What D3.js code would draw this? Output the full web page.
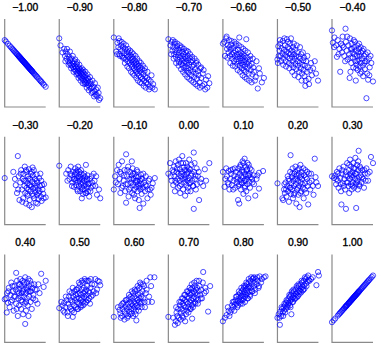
<!DOCTYPE html>
<html><head><meta charset="utf-8">
<script src="https://cdn.jsdelivr.net/npm/d3@7"></script>
<style>html,body{margin:0;padding:0;background:#fff;}svg{display:block;}</style>
</head><body>
<svg id="chart" width="381" height="349"></svg>
<script>
const titles = ["\u22121.00","\u22120.90","\u22120.80","\u22120.70","\u22120.60","\u22120.50","\u22120.40",
  "\u22120.30","\u22120.20","\u22120.10","0.00","0.10","0.20","0.30",
  "0.40","0.50","0.60","0.70","0.80","0.90","1.00"];

const r_m100 = [[0,76],[3,74.4],[8,71.8],[12,69.6],[15,68],[18,66.5],[20,65.4],[22,64.3],[24,63.3],[26,62.2],[28,61.2],[30,60.1],[31,59.6],[33,58.5],[34,58],[35,57.5],[36,56.9],[37,56.4],[38,55.9],[39,55.3],[40,54.8],[41,54.3],[42,53.7],[43,53.2],[44,52.7],[45,52.2],[46,51.6],[47,51.1],[48,50.6],[49,50],[50,49.5],[51,49],[52,48.4],[53,47.9],[54,47.4],[55,46.9],[56,46.3],[57,45.8],[58,45.3],[59,44.7],[60,44.2],[61,43.7],[62,43.1],[63,42.6],[64,42.1],[65,41.6],[66,41],[67,40.5],[68,40],[70,38.9],[72,37.8],[74,36.8],[76,35.7],[78,34.7],[80,33.6],[83,32],[86,30.4],[88,29.4],[90,28.3],[93,26.7],[96,25.1],[100,23]];
const r_m090 = [[0,78],[3,70],[8,62],[12,66],[14,58],[16,63],[18,55],[20,60],[22,52],[24,57],[25,50],[27,54],[28,48],[30,55],[31,47],[32,51],[34,45],[35,49],[36,43],[37,52],[38,46],[40,41],[41,45],[42,49],[43,39],[44,43],[45,46],[46,38],[47,41],[48,44],[49,36],[50,40],[51,43],[52,34],[53,38],[54,41],[55,33],[56,37],[57,40],[58,31],[59,35],[60,38],[61,30],[62,34],[63,28],[64,36],[65,31],[66,27],[67,33],[68,29],[70,25],[71,32],[72,27],[74,23],[75,29],[77,21],[78,26],[80,22],[82,17],[84,23],[86,18],[88,14],[90,20],[93,12],[96,16],[100,10],
  [15,52],[19,66],[23,48],[26,63],[29,44],[33,58],[35,40],[39,54],[42,37],[44,51],[47,33],[49,48],[52,30],[55,44],[57,27],[59,42],[62,26],[64,40],[67,22],[69,37],[72,19],[75,34],[79,16],[81,30],[85,12],[87,27],[91,14],[94,22],[97,8]];
const r_m080 = [[0,79],[6,63],[9,73],[11,68],[13,60],[14,75],[16,66],[18,70],[20,58],[21,64],[23,68],[25,56],[26,61],[28,66],[29,54],[31,59],[32,63],[34,52],[35,57],[36,62],[38,50],[39,55],[40,59],[42,48],[43,53],[44,57],[45,46],[46,51],[47,55],[49,44],[50,49],[51,53],[52,42],[53,47],[54,51],[55,40],[56,45],[57,49],[58,38],[60,43],[61,47],[62,36],[63,41],[65,45],[66,34],[67,39],[69,43],[70,32],[72,37],[74,30],[75,41],[77,34],[79,28],[81,33],[83,26],[85,31],[88,23],[90,29],[94,22],[100,20],
  [8,60],[12,78],[15,58],[19,74],[22,56],[24,72],[27,50],[30,70],[33,46],[35,66],[37,44],[40,64],[42,40],[44,62],[46,38],[48,60],[50,36],[53,58],[55,33],[57,55],[59,30],[62,52],[64,28],[66,50],[68,27],[71,47],[73,24],[76,44],[78,22],[82,40],[86,20],[92,36],[96,26]];
const r_m070 = [[0,77],[5,70],[8,74],[10,64],[12,68],[14,60],[15,72],[17,65],[18,57],[20,62],[21,69],[22,54],[24,59],[25,65],[26,51],[27,62],[28,56],[30,67],[31,49],[32,58],[33,53],[34,63],[35,47],[36,55],[37,60],[38,50],[39,44],[40,57],[41,52],[42,62],[43,46],[44,55],[45,41],[46,50],[47,58],[48,44],[49,53],[50,39],[51,48],[52,56],[54,42],[55,51],[56,36],[58,46],[59,53],[60,40],[62,48],[63,34],[65,43],[67,38],[68,50],[70,32],[72,41],[74,36],[76,28],[78,44],[80,33],[84,38],[88,26],[92,31],[95,22],[100,27],
  [7,60],[11,76],[13,55],[16,74],[19,50],[22,72],[25,47],[28,70],[31,43],[33,68],[36,40],[38,66],[41,37],[44,64],[46,34],[48,63],[51,32],[53,60],[56,30],[58,57],[61,28],[64,55],[66,26],[69,52],[71,24],[73,48],[77,22],[80,45],[83,24],[86,42],[90,20],[97,35]];
const r_m060 = [[0,72],[3,74],[8,78],[10,66],[12,70],[14,62],[16,68],[17,58],[19,65],[20,71],[22,60],[23,55],[25,67],[26,62],[27,52],[29,58],[30,64],[31,70],[32,54],[34,60],[35,49],[36,57],[37,65],[38,52],[40,79],[40,60],[41,47],[42,55],[43,62],[44,50],[45,58],[46,44],[47,53],[48,60],[49,48],[50,56],[51,42],[52,51],[53,58],[54,46],[55,53],[56,40],[57,77],[58,49],[59,56],[60,44],[62,51],[63,38],[65,47],[66,54],[68,42],[70,49],[72,37],[74,45],[76,40],[80,34],[85,21],[88,44],[100,33],
  [5,58],[9,80],[11,56],[15,76],[18,50],[21,75],[24,47],[28,74],[30,46],[33,72],[36,42],[39,70],[42,40],[45,68],[48,36],[50,66],[53,34],[55,64],[58,32],[61,62],[64,30],[67,58],[70,28],[73,55],[78,30],[82,52],[90,38],[95,28]];
const r_m050 = [[0,54],[1,50],[2,69],[5,64],[7,72],[8,58],[10,67],[12,61],[13,75],[15,55],[16,65],[18,70],[19,59],[20,52],[22,63],[23,77],[24,57],[25,68],[27,61],[28,50],[29,66],[30,55],[31,72],[32,60],[34,48],[35,64],[36,57],[37,52],[38,68],[39,45],[40,60],[42,55],[43,65],[44,49],[45,58],[46,43],[48,62],[49,52],[50,47],[52,57],[53,40],[54,50],[56,55],[57,44],[58,60],[60,38],[61,48],[63,53],[64,42],[66,35],[67,47],[68,24],[70,52],[72,40],[74,45],[76,32],[80,42],[84,36],[91,52],[99,30],
  [3,58],[6,76],[9,52],[14,48],[17,78],[21,46],[26,74],[29,44],[33,78],[36,40],[40,72],[42,36],[47,70],[51,34],[55,68],[59,30],[62,62],[65,56],[69,30],[73,58],[77,26],[82,50],[87,44],[94,38]];
const r_m040 = [[0,87],[2,73],[6,79],[10,70],[12,57],[14,76],[18,66],[20,40],[22,72],[24,62],[26,80],[28,68],[30,58],[33,89],[34,74],[36,64],[38,54],[40,70],[42,60],[43,33],[44,78],[46,66],[47,50],[48,72],[50,62],[51,56],[52,45],[54,68],[55,60],[56,74],[57,52],[58,64],[60,48],[61,58],[62,70],[63,42],[64,62],[65,54],[66,66],[67,46],[68,58],[70,50],[71,62],[72,40],[73,55],[74,64],[75,47],[76,35],[78,58],[79,50],[80,43],[82,60],[84,10],[85,52],[86,38],[88,31],[90,55],[92,45],[96,50],[100,29],
  [5,68],[16,60],[25,70],[32,52],[37,80],[45,56],[49,66],[53,76],[59,44],[62,52],[66,72],[69,38],[77,66],[81,52],[87,62],[91,36],[94,58],[45,40],[58,30],[70,68]];
const r_m030 = [[0,53],[21,60],[27,45],[30,36],[32,78],[34,55],[36,28],[38,48],[40,62],[42,40],[44,52],[45,30],[46,58],[48,44],[49,66],[50,36],[51,50],[52,24],[53,60],[54,42],[55,47],[56,33],[57,55],[58,40],[59,63],[60,45],[61,28],[62,52],[63,38],[64,58],[65,43],[66,20],[67,49],[68,35],[69,56],[70,41],[71,62],[72,30],[73,47],[74,52],[75,37],[76,25],[77,44],[78,57],[79,34],[80,48],[81,40],[82,29],[84,53],[85,38],[86,44],[88,32],[89,50],[90,27],[92,40],[94,35],[96,46],[100,31],
  [25,52],[33,40],[39,58],[43,26],[47,50],[52,62],[55,35],[58,52],[62,45],[66,60],[70,33],[74,42],[78,50],[83,36],[87,58],[91,45],[95,30],[60,22],[68,65],[80,24]];
const r_m020 = [[0,67],[17,58],[22,62],[25,52],[28,66],[30,56],[32,48],[34,60],[35,52],[36,43],[38,57],[39,64],[40,50],[41,45],[42,58],[43,53],[44,40],[45,62],[46,48],[47,55],[48,44],[49,60],[50,50],[51,38],[52,54],[53,46],[54,58],[55,42],[56,52],[57,48],[58,35],[59,56],[60,44],[61,50],[62,40],[63,54],[64,46],[65,68],[66,36],[67,50],[68,43],[69,56],[70,38],[72,47],[73,32],[75,52],[77,42],[80,48],[84,58],[88,44],[90,55],[92,34],[97,40],[100,30],
  [20,50],[27,58],[31,44],[37,52],[41,60],[45,38],[49,52],[53,62],[57,40],[61,58],[64,36],[68,52],[71,46],[76,38],[79,55],[82,44],[86,50],[55,30],[46,66]];
const r_m010 = [[0,40],[3,55],[8,62],[10,46],[12,68],[14,52],[16,36],[18,58],[20,72],[22,44],[24,50],[26,62],[28,38],[30,80],[30,25],[32,55],[34,46],[35,66],[36,32],[38,52],[40,60],[41,42],[42,48],[44,56],[45,36],[46,64],[47,45],[48,52],[50,40],[51,58],[52,30],[53,48],[54,55],[55,43],[56,62],[57,50],[58,38],[59,46],[60,54],[61,28],[62,44],[63,19],[64,50],[65,40],[66,57],[67,46],[68,35],[70,52],[71,42],[72,24],[74,48],[76,38],[78,55],[80,44],[82,30],[85,50],[88,40],[90,34],[95,47],[100,53],
  [5,48],[15,60],[19,42],[25,56],[29,46],[33,62],[37,40],[43,52],[47,58],[49,34],[55,50],[58,60],[63,42],[67,52],[72,58],[77,45],[83,40],[87,52],[92,42],[44,72]];
const r_000 = [[0,58],[4,70],[8,50],[10,62],[12,45],[14,66],[15,55],[16,38],[18,72],[19,48],[20,60],[22,52],[23,68],[24,42],[25,58],[26,74],[27,50],[28,63],[29,36],[30,55],[31,70],[32,46],[33,60],[34,78],[35,52],[36,40],[37,65],[38,56],[39,48],[40,62],[41,33],[42,54],[43,70],[44,45],[45,58],[46,66],[47,50],[48,42],[49,60],[50,53],[51,74],[52,47],[53,63],[54,38],[55,56],[56,68],[58,50],[60,44],[62,82],[62,18],[63,60],[65,52],[67,40],[69,64],[72,55],[75,28],[78,48],[89,63],[92,50],[100,70],
  [6,55],[13,60],[17,50],[21,64],[28,44],[32,58],[36,70],[41,52],[44,62],[47,38],[50,64],[54,48],[57,58],[61,44],[64,70],[66,56],[70,46],[74,60],[80,52],[85,44]];
const r_p010 = [[0,60],[4,43],[8,64],[10,55],[12,48],[14,61],[16,40],[18,52],[20,58],[22,45],[24,63],[26,50],[28,56],[30,42],[32,60],[34,48],[36,54],[37,28],[38,64],[40,24],[40,46],[41,58],[42,51],[43,68],[44,40],[45,55],[46,62],[47,47],[48,72],[49,53],[50,35],[51,60],[52,50],[53,75],[54,44],[55,57],[56,66],[57,38],[58,52],[59,63],[60,46],[61,56],[62,30],[63,68],[64,49],[65,58],[66,42],[68,54],[70,62],[72,48],[75,56],[79,33],[82,52],[88,41],[88,59],[98,61],
  [6,52],[14,46],[19,62],[25,40],[29,64],[33,52],[38,44],[42,66],[45,48],[47,60],[50,70],[53,42],[55,50],[58,62],[60,70],[63,56],[66,64],[71,52],[76,46],[84,56]];
const r_p020 = [[0,47],[12,30],[14,28],[16,40],[18,36],[20,48],[22,32],[24,44],[25,55],[26,38],[28,26],[29,50],[30,42],[31,60],[32,79],[33,35],[34,47],[35,54],[36,40],[37,64],[38,30],[39,50],[40,44],[41,58],[42,36],[43,52],[44,66],[45,46],[46,24],[47,56],[48,40],[49,62],[50,50],[51,34],[52,58],[53,44],[54,20],[55,54],[56,68],[57,48],[58,38],[59,60],[60,52],[62,42],[63,64],[64,30],[65,56],[67,47],[68,62],[70,36],[72,52],[74,44],[75,23],[77,58],[80,40],[83,50],[88,34],[91,75],[95,48],[99,44],
  [17,46],[21,40],[27,52],[32,42],[36,58],[40,34],[43,60],[46,52],[50,42],[53,64],[56,36],[58,56],[61,46],[66,40],[69,54],[73,60],[78,48],[82,58],[86,44],[93,54]];
const r_p030 = [[0,55],[5,53],[8,56],[10,46],[12,60],[14,50],[16,42],[18,64],[20,53],[22,38],[23,23],[24,58],[26,47],[28,66],[30,52],[32,40],[34,18],[34,60],[36,48],[37,70],[38,55],[40,44],[41,62],[42,36],[43,52],[44,74],[45,58],[46,46],[47,66],[48,40],[49,54],[50,60],[51,48],[52,70],[53,56],[54,42],[55,64],[56,52],[57,76],[58,46],[59,19],[60,58],[61,68],[62,50],[63,40],[64,62],[65,84],[66,54],[67,44],[68,66],[70,56],[72,48],[74,62],[76,52],[78,42],[80,58],[84,64],[88,50],[92,60],[95,77],[100,70],
  [11,52],[15,58],[21,46],[25,62],[29,44],[33,56],[39,48],[42,68],[46,56],[50,44],[53,64],[57,58],[60,48],[64,72],[66,46],[70,64],[73,54],[79,62],[82,50],[87,58]];
const r_p040 = [[0,49],[5,34],[6,56],[8,45],[10,62],[12,40],[14,54],[16,68],[18,48],[20,58],[22,36],[24,64],[26,52],[28,79],[28,44],[30,70],[31,58],[32,30],[33,50],[34,66],[35,42],[36,60],[38,72],[39,52],[40,38],[41,64],[42,56],[43,46],[44,70],[45,32],[46,60],[47,52],[48,66],[49,44],[50,21],[50,74],[51,56],[52,36],[53,62],[54,50],[55,68],[56,42],[57,58],[58,30],[59,64],[60,52],[62,70],[63,46],[64,58],[66,38],[68,62],[70,54],[72,66],[75,48],[78,60],[80,44],[85,56],[89,78],[95,63],[100,70],
  [3,50],[9,58],[15,46],[19,64],[23,52],[27,60],[29,38],[35,56],[37,66],[40,48],[44,58],[47,68],[52,46],[55,60],[58,72],[61,58],[65,66],[69,50],[74,60],[82,66]];
const r_p050 = [[0,39],[8,42],[10,36],[12,45],[15,40],[18,48],[20,34],[22,44],[24,52],[26,40],[28,48],[30,56],[31,36],[32,46],[33,29],[34,52],[36,42],[37,58],[38,48],[40,54],[41,40],[42,50],[43,60],[44,46],[45,55],[46,38],[47,62],[48,50],[49,44],[50,56],[51,66],[52,48],[53,54],[54,42],[55,60],[56,50],[57,68],[58,46],[59,56],[60,62],[61,52],[62,44],[63,58],[64,70],[65,50],[66,60],[67,54],[68,64],[70,48],[71,58],[72,70],[74,56],[75,44],[76,62],[78,52],[80,66],[84,58],[88,72],[92,60],[98,69],[100,65],
  [5,46],[13,34],[16,52],[21,30],[25,58],[29,38],[33,62],[36,34],[41,60],[44,38],[48,68],[52,40],[55,70],[58,42],[62,72],[66,46],[69,70],[73,50],[77,72],[82,54],[86,66],[90,56],[94,70]];
const r_p060 = [[0,29],[14,37],[16,33],[18,42],[20,30],[22,38],[24,45],[26,35],[28,41],[30,32],[31,48],[32,38],[34,44],[35,30],[36,50],[37,40],[38,35],[40,46],[41,52],[42,38],[43,44],[44,33],[45,50],[46,42],[47,56],[48,38],[49,46],[50,52],[51,40],[52,58],[53,44],[54,36],[55,25],[55,50],[56,42],[57,60],[58,48],[59,54],[60,40],[61,46],[62,62],[63,50],[64,56],[65,44],[66,66],[67,52],[68,46],[70,58],[72,50],[74,64],[76,40],[78,56],[80,60],[84,46],[89,74],[93,46],[99,74],
  [10,40],[17,28],[21,44],[26,26],[29,48],[33,28],[37,54],[40,32],[44,58],[47,30],[51,60],[53,32],[58,64],[61,36],[64,68],[68,40],[71,66],[75,46],[80,70],[86,52],[91,64]];
const r_p070 = [[0,29],[16,20],[18,24],[20,34],[22,30],[24,38],[26,28],[28,42],[30,34],[31,46],[32,38],[34,30],[35,44],[36,50],[37,36],[38,42],[40,48],[41,24],[41,54],[42,40],[44,46],[45,36],[46,52],[47,44],[48,58],[49,40],[50,50],[51,56],[52,46],[53,38],[54,54],[55,60],[56,48],[57,42],[58,27],[58,56],[59,62],[60,50],[61,44],[62,58],[63,52],[64,64],[65,46],[66,56],[67,60],[68,50],[70,62],[71,54],[72,44],[74,58],[76,64],[78,54],[80,60],[82,50],[85,80],[88,56],[90,62],[97,35],[102,64],
  [12,28],[19,40],[23,22],[27,46],[30,26],[33,50],[36,28],[39,54],[43,32],[45,58],[49,34],[52,62],[55,38],[57,66],[60,40],[63,68],[66,44],[69,70],[73,48],[75,70],[79,50],[84,68],[92,58]];
const r_p080 = [[0,24],[5,28],[9,31],[14,36],[18,34],[21,37],[22,42],[25,40],[27,46],[29,43],[31,48],[33,44],[34,52],[36,47],[37,42],[38,54],[40,50],[41,46],[42,56],[44,52],[45,48],[46,58],[47,53],[48,44],[49,60],[50,55],[51,50],[52,62],[53,57],[54,52],[55,64],[56,59],[57,54],[58,66],[59,61],[60,56],[61,50],[62,63],[63,68],[64,58],[65,64],[66,54],[67,70],[68,62],[70,66],[71,58],[72,72],[74,73],[75,64],[77,68],[79,60],[80,72],[82,66],[85,70],[88,64],[90,75],[95,72],[100,74],[104,75],
  [12,40],[16,30],[24,46],[28,36],[32,52],[35,40],[39,58],[43,44],[45,62],[48,48],[51,64],[54,46],[57,68],[60,50],[63,72],[66,52],[69,74],[72,58],[76,74],[78,56],[84,74],[87,62],[93,68]];
const r_p090 = [[0,28],[3,32],[6,20],[7,35],[9,30],[11,38],[13,34],[15,40],[16,36],[18,42],[20,38],[21,45],[23,41],[24,47],[26,43],[27,50],[28,45],[30,52],[31,47],[32,40],[33,54],[34,32],[34,49],[36,56],[37,51],[38,46],[40,58],[41,53],[42,49],[44,60],[45,55],[46,51],[48,62],[49,57],[50,53],[52,64],[53,59],[54,55],[56,66],[57,61],[58,57],[60,68],[61,63],[62,59],[64,70],[65,65],[66,61],[68,72],[70,67],[72,74],[74,69],[76,71],[95,65],[99,80],[101,76],
  [5,28],[10,40],[14,30],[17,44],[19,34],[22,48],[25,40],[29,54],[31,42],[35,58],[37,46],[39,60],[43,50],[47,64],[49,52],[51,66],[55,58],[59,70],[63,60],[67,74],[71,64],[75,76],[78,70],[82,72],[86,74]];
const r_p100 = [[0,23],[4,25.1],[8,27.2],[14,30.4],[17,32],[19,33.1],[21,34.1],[23,35.2],[25,36.3],[27,37.3],[29,38.4],[30,38.9],[32,40],[33,40.5],[34,41],[35,41.6],[36,42.1],[37,42.6],[39,43.7],[40,44.2],[41,44.7],[42,45.3],[43,45.8],[44,46.3],[45,46.9],[46,47.4],[47,47.9],[48,48.4],[49,49],[50,49.5],[51,50],[52,50.6],[53,51.1],[54,51.6],[55,52.2],[56,52.7],[57,53.2],[58,53.7],[59,54.3],[60,54.8],[61,55.3],[62,55.9],[63,56.4],[64,56.9],[65,57.5],[66,58],[67,58.5],[69,59.6],[71,60.6],[73,61.7],[75,62.8],[77,63.8],[79,64.9],[81,65.9],[83,67],[85,68],[87,69.1],[89,70.2],[91,71.2],[94,72.8],[97,74.4],[100,76]];

const panels = [r_m100,r_m090,r_m080,r_m070,r_m060,r_m050,r_m040,
  r_m030,r_m020,r_m010,r_000,r_p010,r_p020,r_p030,
  r_p040,r_p050,r_p060,r_p070,r_p080,r_p090,r_p100];

const svg = d3.select("#chart");
const cols = 7, x0 = 4.7, dx = 54.55, y0 = 19, dy = 117.7, pw = 41, ph = 88;

panels.forEach((pts, k) => {
  const c = k % cols, r = Math.floor(k / cols);
  const left = x0 + c * dx, top = y0 + r * dy;
  const x = d3.scaleLinear().domain([0, 100]).range([left, left + pw]);
  const y = d3.scaleLinear().domain([0, 100]).range([top + ph, top]);
  const g = svg.append("g");
  g.append("text").attr("x", left + pw / 2).attr("y", top - 8)
    .attr("text-anchor", "middle").attr("font-family", "Liberation Sans, Arial, sans-serif")
    .attr("font-size", 10.3).attr("fill", "#000")
    .attr("stroke", "#000").attr("stroke-width", 0.35).text(titles[k]);
  g.append("path")
    .attr("d", `M${x(0)},${y(100)}V${y(0)}H${x(100)}`)
    .attr("fill", "none").attr("stroke", "#8a8a8a").attr("stroke-width", 1.2);
  g.selectAll("circle").data(pts).join("circle")
    .attr("cx", d => x(d[0])).attr("cy", d => y(d[1])).attr("r", 2.6)
    .attr("fill", "none").attr("stroke", "#0000ff").attr("stroke-width", 0.7);
});
</script>
</body></html>
